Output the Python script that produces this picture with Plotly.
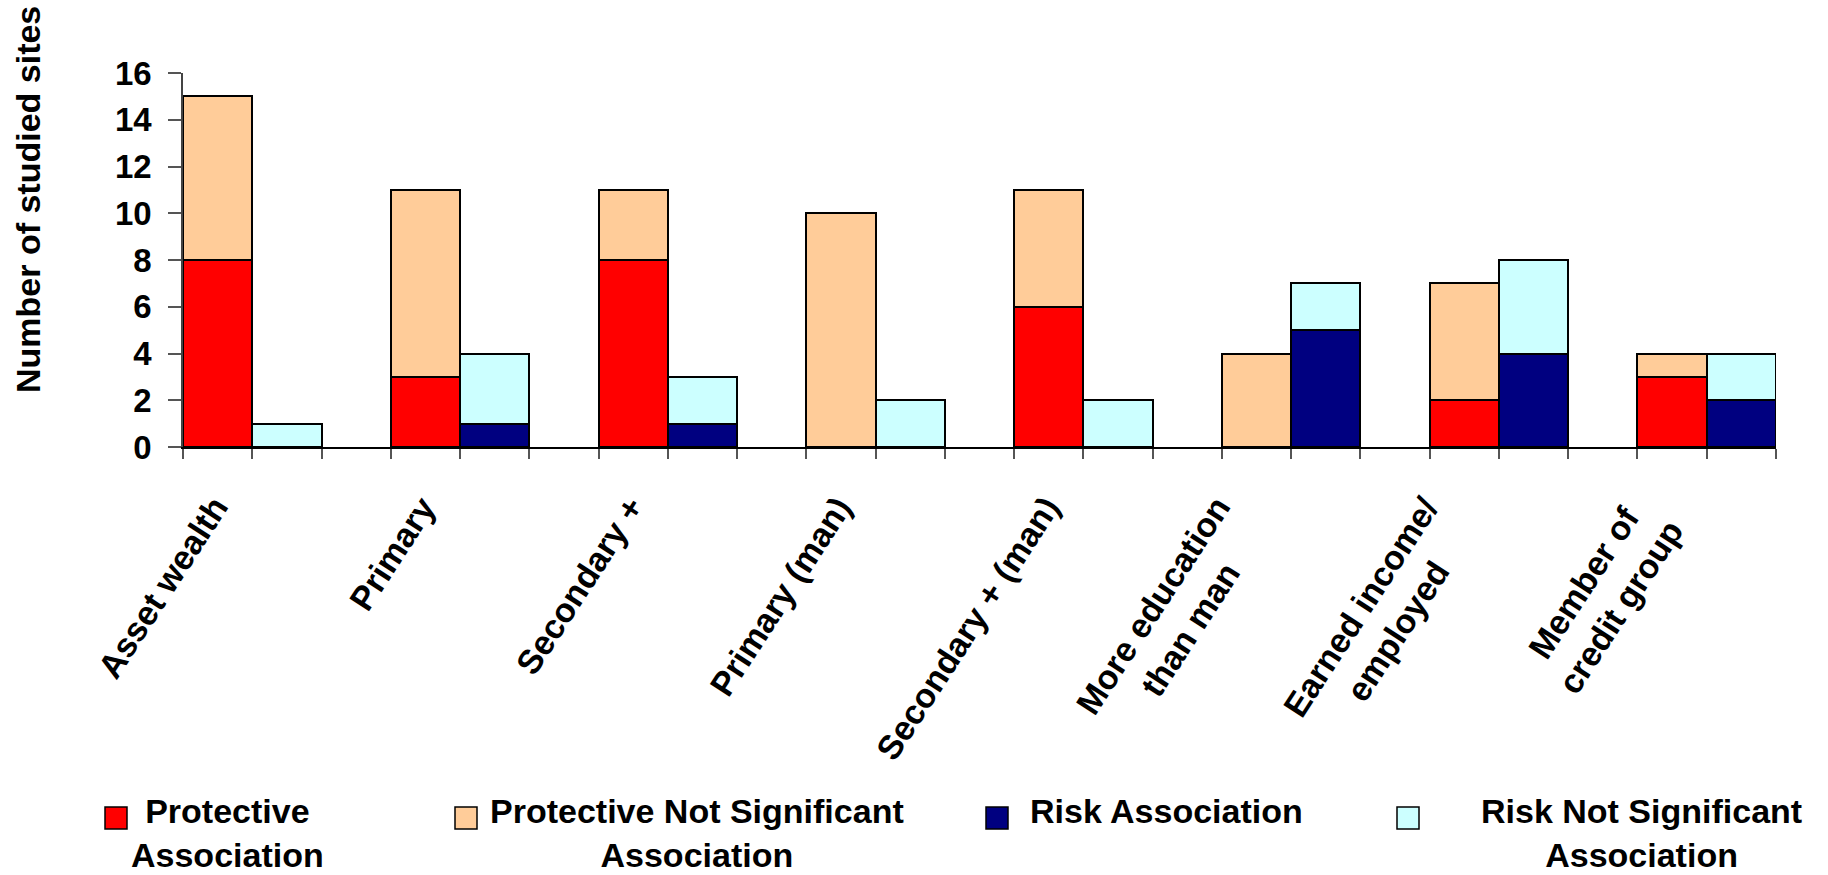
import plotly.graph_objects as go

# Site counts per indicator, split by direction and significance
categories = [
    "Asset wealth",
    "Primary",
    "Secondary +",
    "Primary (man)",
    "Secondary + (man)",
    "More education<br>than man",
    "Earned income/<br>employed",
    "Member of<br>credit group",
]
protective = [8, 3, 8, 0, 6, 0, 2, 3]
protective_ns = [7, 8, 3, 10, 5, 4, 5, 1]
risk = [0, 1, 1, 0, 0, 5, 4, 2]
risk_ns = [1, 3, 2, 2, 2, 2, 4, 2]

series_names = [
    "Protective<br>Association",
    "Protective Not Significant<br>Association",
    "Risk Association",
    "Risk Not Significant<br>Association",
]
series_colors = ["#FF0000", "#FFCC99", "#000080", "#CCFFFF"]

y_ticks = [0, 2, 4, 6, 8, 10, 12, 14, 16]

FONT = "Arial, Liberation Sans, sans-serif"

# Plot area in pixels
W, H = 1828, 875
L, R, T, B = 183, 52, 73, 428
PW, PH = W - L - R, H - T - B


def px_x(px):
    return (px - L) / PW


def px_y(py):
    return (H - B - py) / PH


def nz(vals):
    return [v if v else None for v in vals]


# each indicator occupies three unit slots: protective bar, risk bar, gap
x_prot = [3 * i + 0.5 for i in range(len(categories))]
x_risk = [3 * i + 1.5 for i in range(len(categories))]

fig = go.Figure()
for xs, vals, name, color in [
    (x_prot, protective, series_names[0], series_colors[0]),
    (x_prot, protective_ns, series_names[1], series_colors[1]),
    (x_risk, risk, series_names[2], series_colors[2]),
    (x_risk, risk_ns, series_names[3], series_colors[3]),
]:
    fig.add_trace(go.Bar(
        x=xs, y=nz(vals), width=1, name=name,
        marker=dict(color=color, line=dict(color="#000000", width=2.5)),
        showlegend=False,
    ))

n_slots = 3 * len(categories) - 1

fig.update_layout(
    width=W, height=H,
    margin=dict(l=L, r=R, t=T, b=B),
    paper_bgcolor="white", plot_bgcolor="white",
    barmode="stack", bargap=0,
    font=dict(family=FONT, size=33, color="black"),
    xaxis=dict(
        range=[0, n_slots], tick0=0, dtick=1,
        ticks="outside", ticklen=10, tickwidth=1.5, tickcolor="#555555",
        showticklabels=False, showgrid=False, zeroline=False,
        showline=True, linecolor="black", linewidth=2,
    ),
    yaxis=dict(
        range=[0, 16], tickvals=y_ticks,
        ticks="outside", ticklen=13, tickwidth=1.5, tickcolor="#555555",
        tickfont=dict(family=FONT, size=33, color="black", weight="bold"),
        ticklabelstandoff=10,
        showgrid=False, zeroline=False,
        showline=True, linecolor="#444444", linewidth=1.5,
    ),
)

annotations = []
# rotated category labels beneath each pair of bars
for i, cat in enumerate(categories):
    annotations.append(dict(
        x=3 * i + 1 - 0.2, xref="x", y=0, yref="paper",
        yshift=-40, xanchor="right", yanchor="top",
        text="<b>%s</b>" % cat, textangle=-57, showarrow=False,
        align="center", font=dict(family=FONT, size=34, color="black"),
    ))

# y-axis title
annotations.append(dict(
    x=px_x(28), xref="paper", y=px_y(200), yref="paper",
    xanchor="center", yanchor="middle", textangle=-90,
    text="<b>Number of studied sites</b>", showarrow=False,
    font=dict(family=FONT, size=34, color="black"),
))

# legend: swatch left edges and text block centres (pixels)
swatch_left = [105, 455, 986, 1397]
text_center = [227, 697, 1166, 1641]
shapes = []
for name, color, sx, tc in zip(series_names, series_colors, swatch_left, text_center):
    shapes.append(dict(
        type="rect", xref="paper", yref="paper",
        x0=px_x(sx), x1=px_x(sx + 22), y0=px_y(829), y1=px_y(807),
        fillcolor=color, line=dict(color="black", width=1.5),
    ))
    annotations.append(dict(
        x=px_x(tc), xref="paper", y=px_y(790), yref="paper",
        xanchor="center", yanchor="top", align="center",
        text="<b>%s</b>" % name, showarrow=False,
        font=dict(family=FONT, size=34, color="black"),
    ))

fig.update_layout(annotations=annotations, shapes=shapes)

fig.write_html("out.html")
